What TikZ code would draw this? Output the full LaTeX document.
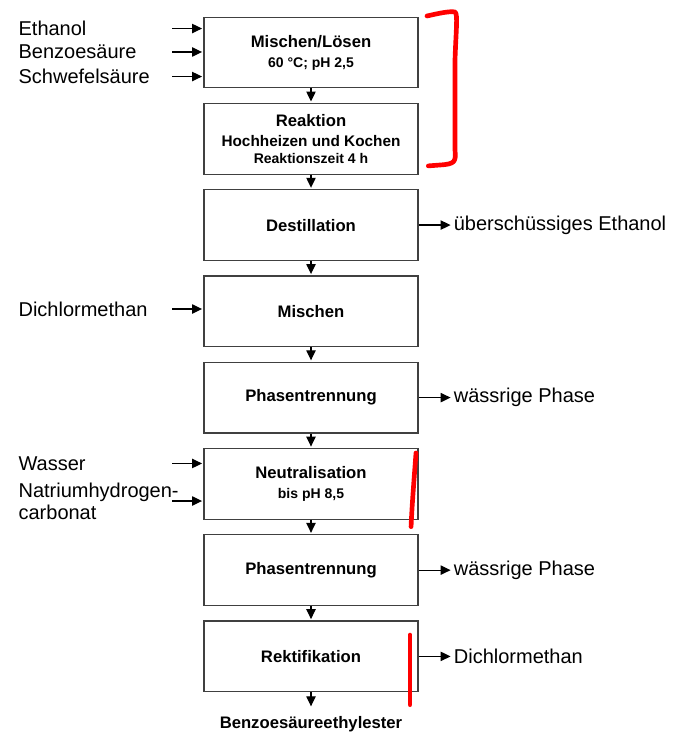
\documentclass[tikz,border=0pt]{standalone}
\usepackage{fontspec}
\setmainfont{Liberation Sans}
\usetikzlibrary{arrows.meta,positioning}
\newcommand{\klein}{\fontsize{10.5}{12}\selectfont}
\newcommand{\mittel}{\fontsize{11.5}{13}\selectfont}

\begin{document}
\begin{tikzpicture}[->,>={Triangle[length=7.5pt,width=7pt]},shorten >=1pt,auto,node distance=64.7pt,
  line width=0.9pt,
  main node/.style={rectangle,draw=black!75,minimum width=160.5pt,minimum height=53pt,align=center,font=\fontsize{12.5}{15}\selectfont\bfseries},
  side node/.style={inner sep=1pt,font=\fontsize{15}{16.5}\selectfont}]

 \useasboundingbox (0,0) rectangle (504pt,-550.5pt);

 \node[main node] (1) at (233.25pt,-39.4pt) {Mischen/Lösen\\{\klein 60 °C; pH 2,5}};
 \node[main node] (2) [below of=1] {Reaktion\\{\mittel Hochheizen und Kochen}\\[-2pt]{\klein Reaktionszeit 4 h}};
 \node[main node] (3) [below of=2] {Destillation};
 \node[main node] (4) [below of=3] {Mischen};
 \node[main node] (5) [below of=4] {Phasentrennung};
 \node[main node] (6) [below of=5] {Neutralisation\\{\klein bis pH 8,5}};
 \node[main node] (7) [below of=6] {Phasentrennung};
 \node[main node] (8) [below of=7] {Rektifikation};
 \node (prod) [below=17.5pt of 8,inner sep=0pt,font=\fontsize{12.5}{15}\selectfont\bfseries] {Benzoesäureethylester};

 % Zugaben links
 \coordinate (inx) at (129pt,0);
 \node[side node,anchor=west] (eth) at (12.5pt,-21.4pt) {Ethanol};
 \node[side node,anchor=west] (benz) at (12.5pt,-39pt) {Benzoesäure};
 \node[side node,anchor=west] (schw) at (12.5pt,-57.4pt) {Schwefelsäure};
 \node[side node,anchor=west] (dcm) at (12.5pt,-231.75pt) {Dichlormethan};
 \node[side node,anchor=west] (wass) at (12.5pt,-347.6pt) {Wasser};
 \node[side node,anchor=west,align=left] (natr) at (12.5pt,-375.75pt) {Natriumhydrogen-\\carbonat};

 % Abgaben rechts
 \node[side node] (ueb) [right=25pt of 3] {überschüssiges Ethanol};
 \node[side node] (wp1) [right=25pt of 5] {wässrige Phase};
 \node[side node] (wp2) [right=25pt of 7] {wässrige Phase};
 \node[side node] (dcm2) [right=25pt of 8] {Dichlormethan};

 \path
    (1) edge (2)
    (2) edge (3)
    (3) edge (4)
    (4) edge (5)
    (5) edge (6)
    (6) edge (7)
    (7) edge (8)
    (8) edge [shorten >=7pt] (prod)
    (3) edge (ueb)
    (5) edge (wp1)
    (7) edge (wp2)
    (8) edge (dcm2)
    (eth -| inx) edge (eth -| 1.west)
    (benz -| inx) edge (benz -| 1.west)
    (schw -| inx) edge (schw -| 1.west)
    (dcm -| inx) edge (dcm -| 4.west)
    (wass -| inx) edge (wass -| 6.west)
    (natr -| inx) edge (natr -| 6.west);

 % rote Markierungen
 \begin{scope}[x=0.75pt,y=-0.75pt,-,red,line width=3.5pt,line cap=round,line join=round]
  \draw (427,16) .. controls (440,13) and (450,11) .. (455,12)
        .. controls (458,14) and (456,30) .. (455,60) -- (455,150)
        .. controls (456,162) and (455,164) .. (440,165) -- (427,166);
  \draw (416,453) .. controls (414,480) and (412,505) .. (411,528);
  \draw (410,635) -- (410,706);
 \end{scope}

\end{tikzpicture}
\end{document}
